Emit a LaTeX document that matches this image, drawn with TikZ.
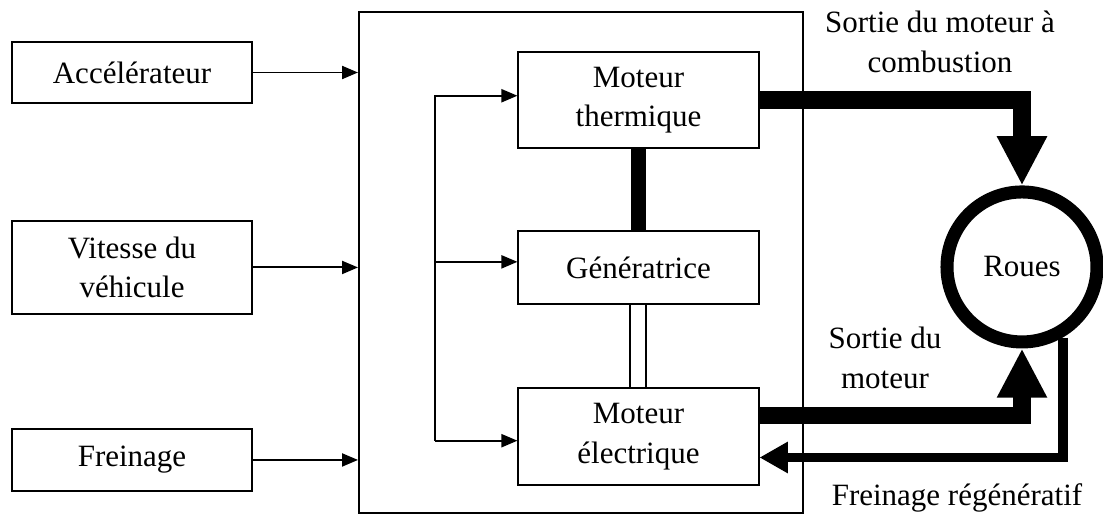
\documentclass[tikz,border=0pt]{standalone}
\usepackage{fontspec}
\setmainfont{Liberation Serif}
\usetikzlibrary{arrows.meta}

\tikzset{
    box/.style={draw, line width=0.8pt, minimum width=3.43cm, align=center, inner sep=2pt},
    sig/.style={line width=0.8pt, -{Triangle[length=6.5pt,width=5.3pt]}},
    power/.style={line width=7.3pt, -{Triangle[length=20pt,width=19pt]}},
    regen/.style={line width=4pt, -{Triangle[length=11.5pt,width=12pt]}}
}

\begin{document}
\begin{tikzpicture}[font=\fontsize{12.6}{16}\selectfont]
\useasboundingbox (0,0) rectangle (15.757,7.357);

% Inputs
\node[box, minimum height=0.87cm] (acc) at (1.886,6.321) {Accélérateur};
\node[box, minimum height=1.33cm] (vit) at (1.886,3.536) {Vitesse du\\véhicule};
\node[box, minimum height=0.89cm] (frein) at (1.886,0.786) {Freinage};

% Control block
\node[draw, line width=0.8pt, minimum width=6.343cm, minimum height=7.157cm] (sys) at (8.3,3.607) {};

% Drive units
\node[box, minimum height=1.37cm] (therm) at (9.121,5.929) {Moteur\\thermique};
\node[box, minimum height=1.04cm] (gen) at (9.121,3.536) {Génératrice};
\node[box, minimum height=1.39cm] (elec) at (9.121,1.121) {Moteur\\électrique};

% Wheels
\node[circle, draw, line width=5.3pt, minimum size=2.143cm] (roues) at (14.6,3.543) {Roues};

% Input arrows
\draw[sig] (acc.east) -- (acc.east -| sys.west);
\draw[sig] (vit.east) -- (vit.east -| sys.west);
\draw[sig] (frein.east) -- (frein.east -| sys.west);

% Command bus
\coordinate (bus) at (6.214,0);
\draw[sig] ([yshift=-0.06cm]bus |- elec.west) -- ([yshift=0.06cm]bus |- therm.west) -- ([yshift=0.06cm]therm.west);
\draw[sig] ([yshift=0.08cm]bus |- gen.west) -- ([yshift=0.08cm]gen.west);
\draw[sig] ([yshift=-0.06cm]bus |- elec.west) -- ([yshift=-0.06cm]elec.west);

% Mechanical links
\draw[line width=6pt] (therm.south) -- (gen.north);
\draw[line width=0.8pt, double, double distance=5.7pt] (gen.south) -- (elec.north);

% Power paths
\draw[power] (therm.east) -| (roues.north);
\draw[power] ([yshift=0.3cm]elec.east) -| (roues.south);
\draw[regen] (roues.-60) |- ([yshift=-0.3cm]elec.east);

% Labels
\node[align=center] (combLbl) at (13.429,6.757) {Sortie du moteur à\\combustion};
\node[align=center] (motLbl) at (12.643,2.243) {Sortie du\\moteur};
\node (regLbl) at (13.671,0.243) {Freinage régénératif};

\end{tikzpicture}
\end{document}
